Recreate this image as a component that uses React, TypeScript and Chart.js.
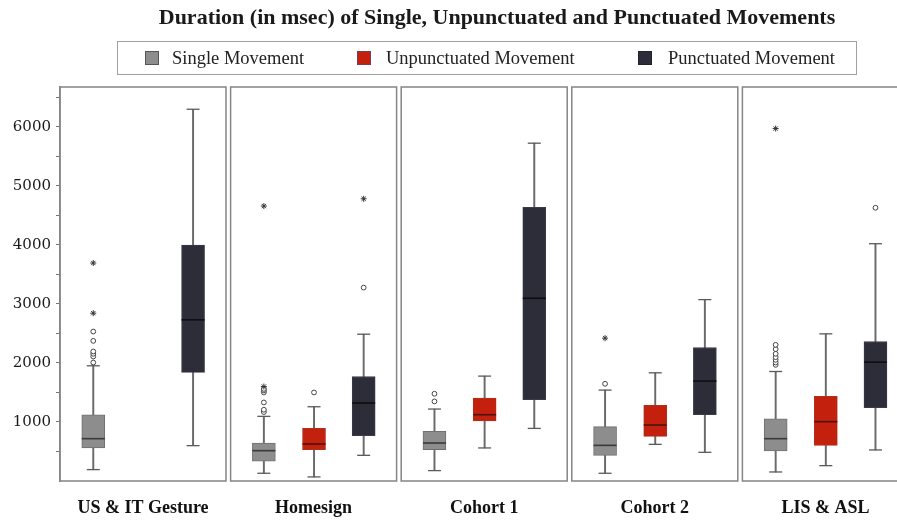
import React, { useEffect, useRef } from 'react';
import { Chart, registerables } from 'chart.js';
Chart.register(...registerables);

const TITLE = 'Duration (in msec) of Single, Unpunctuated and Punctuated Movements';
const groups = ['US & IT Gesture', 'Homesign', 'Cohort 1', 'Cohort 2', 'LIS & ASL'];
const seriesNames = ['Single Movement', 'Unpunctuated Movement', 'Punctuated Movement'];

// [lower whisker, Q1, median, Q3, upper whisker] per group (null = not present)
const singleStats = [
  [193, 560, 717, 1123, 1952],
  [131, 334, 514, 644, 1095],
  [176, 531, 644, 841, 1219],
  [131, 435, 604, 920, 1540],
  [153, 509, 717, 1055, 1855],
];
const unpunctStats = [
  null,
  [69, 531, 627, 891, 1258],
  [560, 1016, 1123, 1405, 1777],
  [621, 756, 948, 1281, 1833],
  [260, 604, 1005, 1433, 2493],
];
const punctStats = [
  [599, 1839, 2730, 3998, 6298],
  [435, 768, 1321, 1771, 2487],
  [891, 1377, 3096, 4635, 5723],
  [486, 1123, 1693, 2262, 3073],
  [526, 1241, 2014, 2363, 4020],
];

// outliers (circles) and extremes (asterisks)
const singleOutliers = [
  [2007, 2109, 2155, 2194, 2374, 2532],
  [1168, 1207, 1331, 1500, 1534, 1560],
  [1348, 1478],
  [1647],
  [1968, 2008, 2053, 2098, 2155, 2234, 2307],
];
const singleExtremes = [[2843, 3693], [1600, 4658], [], [2420], [5971]];
const unpunctOutliers = [[], [1500], [], [], []];
const unpunctExtremes = [[], [], [], [], []];
const punctOutliers = [[], [3276], [], [], [4629]];
const punctExtremes = [[], [4781], [], [], []];

const yTickValues = [500, 1000, 1500, 2000, 2500, 3000, 3500, 4000, 4500, 5000, 5500, 6000, 6500];
const yTickLabels = ['', '1000', '', '2000', '', '3000', '', '4000', '', '5000', '', '6000', ''];
const Y_MAX = 6675;

const SLOT = [0.195, 0.489, 0.78];
const PANEL_W = 0.973;
const FILLS = ['#8d8d8d', '#c3200d', '#2c2d38'];
const EDGES = ['#707070', '#b0301e', '#3a3b46'];
const MEDIANS = ['#3a3a3a', '#4a150c', '#0e0e12'];

const allStats = [singleStats, unpunctStats, punctStats];
const allOut = [singleOutliers, unpunctOutliers, punctOutliers];
const allExt = [singleExtremes, unpunctExtremes, punctExtremes];

function buildDatasets() {
  const ds: any[] = [];
  allStats.forEach((stats, s) => {
    const pts = stats
      .map((st, g) => (st ? { g, st } : null))
      .filter(Boolean) as { g: number; st: number[] }[];
    ds.push({
      type: 'bar',
      label: seriesNames[s] + ' whisker',
      data: pts.map(({ g, st }) => ({ x: g + SLOT[s], y: [st[0], st[4]] })),
      backgroundColor: '#6a6a6a',
      borderWidth: 0,
      barThickness: 1.3,
      grouped: false,
      order: 6,
    });
    ds.push({
      type: 'bar',
      label: seriesNames[s],
      data: pts.map(({ g, st }) => ({ x: g + SLOT[s], y: [st[1], st[3]] })),
      backgroundColor: FILLS[s],
      borderColor: EDGES[s],
      borderWidth: 1,
      borderSkipped: false,
      barThickness: 23,
      grouped: false,
      order: 5,
    });
    ds.push({
      type: 'scatter',
      label: seriesNames[s] + ' caps',
      data: pts.flatMap(({ g, st }) => [
        { x: g + SLOT[s], y: st[0] },
        { x: g + SLOT[s], y: st[4] },
      ]),
      pointStyle: 'line',
      pointRadius: 6.5,
      pointHoverRadius: 6.5,
      pointBorderColor: '#5a5a5a',
      pointBorderWidth: 1.3,
      order: 4,
    });
    ds.push({
      type: 'scatter',
      label: seriesNames[s] + ' median',
      data: pts.map(({ g, st }) => ({ x: g + SLOT[s], y: st[2] })),
      pointStyle: 'line',
      pointRadius: 11.5,
      pointHoverRadius: 11.5,
      pointBorderColor: MEDIANS[s],
      pointBorderWidth: 1.6,
      order: 3,
    });
    ds.push({
      type: 'scatter',
      label: seriesNames[s] + ' outliers',
      data: allOut[s].flatMap((vals, g) => vals.map((v) => ({ x: g + SLOT[s], y: v }))),
      pointStyle: 'circle',
      pointRadius: 2.4,
      pointBackgroundColor: '#ffffff',
      pointBorderColor: '#444444',
      pointBorderWidth: 1,
      order: 2,
    });
    ds.push({
      type: 'scatter',
      label: seriesNames[s] + ' extremes',
      data: allExt[s].flatMap((vals, g) => vals.map((v) => ({ x: g + SLOT[s], y: v }))),
      pointStyle: 'star',
      pointRadius: 3,
      pointBorderColor: '#333333',
      pointBorderWidth: 1,
      order: 1,
    });
  });
  return ds;
}

const panelPlugin = {
  id: 'panels',
  beforeDatasetsDraw(chart: any) {
    const { ctx, chartArea, scales } = chart;
    const x = scales.x;
    ctx.save();
    ctx.strokeStyle = '#858585';
    ctx.lineWidth = 1.5;
    groups.forEach((_, g) => {
      const l = x.getPixelForValue(g);
      const r = x.getPixelForValue(g + PANEL_W);
      ctx.strokeRect(l, chartArea.top, r - l, chartArea.bottom - chartArea.top);
    });
    ctx.restore();
  },
};

const headerPlugin = {
  id: 'header',
  afterDraw(chart: any) {
    const ctx = chart.ctx;
    ctx.save();
    ctx.fillStyle = '#1a1a1a';
    ctx.font = 'bold 22px "Liberation Serif"';
    ctx.textAlign = 'center';
    ctx.textBaseline = 'middle';
    ctx.fillText(TITLE, 497, 18);

    ctx.strokeStyle = '#a0a0a0';
    ctx.lineWidth = 1;
    ctx.strokeRect(117.5, 41.5, 739, 33);

    const sqX = [145, 357, 638];
    const txX = [172, 386, 668];
    const sqBorder = ['#555555', '#7a3a5a', '#222228'];
    ctx.font = '18.5px "Liberation Serif"';
    ctx.textAlign = 'left';
    seriesNames.forEach((n, i) => {
      ctx.fillStyle = FILLS[i];
      ctx.fillRect(sqX[i], 51, 14, 14);
      ctx.strokeStyle = sqBorder[i];
      ctx.strokeRect(sqX[i] + 0.5, 51.5, 13, 13);
      ctx.fillStyle = '#222222';
      ctx.fillText(n, txX[i], 59);
    });
    ctx.restore();
  },
};

export default function App() {
  const ref = useRef<HTMLCanvasElement>(null);
  useEffect(() => {
    if (!ref.current) return;
    const centers = groups.map((_, g) => g + PANEL_W / 2);
    const chart = new Chart(ref.current, {
      type: 'bar',
      data: { datasets: buildDatasets() },
      options: {
        animation: false,
        responsive: false,
        devicePixelRatio: 1,
        layout: { autoPadding: false, padding: { top: 87, right: 2, left: 0, bottom: 0 } },
        plugins: { legend: { display: false }, tooltip: { enabled: false }, title: { display: false } },
        scales: {
          x: {
            type: 'linear',
            min: 0,
            max: 5,
            offset: false,
            grid: { display: false, drawTicks: false },
            border: { display: false },
            afterFit: (s: any) => {
              s.height = 40;
              s.paddingLeft = 0;
              s.paddingRight = 0;
            },
            afterBuildTicks: (s: any) => {
              s.ticks = centers.map((v) => ({ value: v }));
            },
            ticks: {
              autoSkip: false,
              maxRotation: 0,
              padding: 17,
              color: '#111111',
              font: { family: '"Liberation Serif"', size: 18, weight: 'bold' },
              callback: (_v: any, i: number) => groups[i],
            },
          },
          y: {
            type: 'linear',
            min: 0,
            max: Y_MAX,
            grid: { display: true, drawOnChartArea: false, drawTicks: true, tickLength: 4, color: '#777777' },
            border: { display: true, color: '#858585', width: 1.5 },
            afterFit: (s: any) => {
              s.width = 60;
              s.paddingTop = 0;
              s.paddingBottom = 0;
            },
            afterBuildTicks: (s: any) => {
              s.ticks = yTickValues.map((v) => ({ value: v }));
            },
            ticks: {
              autoSkip: false,
              padding: 5,
              color: '#1a1a1a',
              font: { family: '"DejaVu Serif"', size: 15 },
              callback: (_v: any, i: number) => yTickLabels[i],
            },
          },
        },
      },
      plugins: [panelPlugin, headerPlugin],
    } as any);
    return () => chart.destroy();
  }, []);
  return (
    <div style={{ position: 'fixed', left: 0, top: 0, width: 897, height: 521, overflow: 'hidden', background: '#fff' }}>
      <canvas ref={ref} width={915} height={521} style={{ display: 'block', width: 915, height: 521 }} />
    </div>
  );
}
